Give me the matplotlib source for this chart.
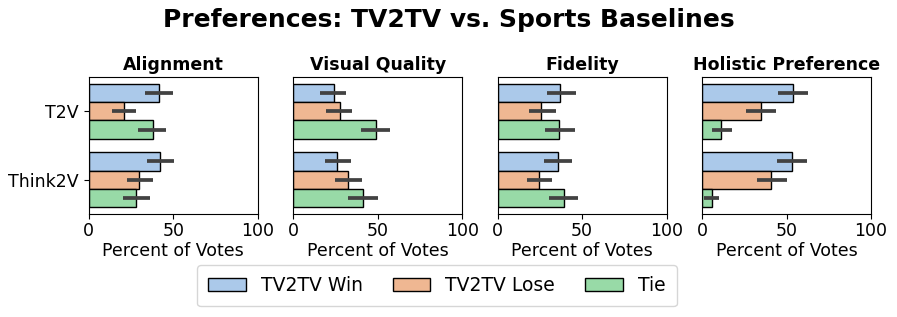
import numpy as np
import matplotlib
matplotlib.use("Agg")
import matplotlib.pyplot as plt
import seaborn as sns

# Data (percent of votes, with CI bounds)
panels = ["Alignment", "Visual Quality", "Fidelity", "Holistic Preference"]
baselines = ["T2V", "Think2V"]
outcomes = ["TV2TV Win", "TV2TV Lose", "Tie"]

# values[panel][baseline] = [win, lose, tie]
values = {
    "Alignment":           [[41.4, 20.8, 38.0], [42.2, 29.9, 27.9]],
    "Visual Quality":      [[24.2, 27.4, 48.8], [26.0, 32.5, 41.4]],
    "Fidelity":            [[37.2, 25.9, 36.6], [36.0, 24.4, 39.4]],
    "Holistic Preference": [[53.9, 34.7, 11.3], [53.3, 41.1, 5.6]],
}
ci_low = {
    "Alignment":           [[33.1, 13.9, 29.1], [34.7, 22.6, 20.0]],
    "Visual Quality":      [[16.1, 19.2, 40.1], [18.7, 24.8, 32.7]],
    "Fidelity":            [[29.2, 18.5, 28.0], [27.2, 17.1, 30.4]],
    "Holistic Preference": [[45.2, 25.8, 5.8], [44.4, 32.5, 1.4]],
}
ci_high = {
    "Alignment":           [[49.9, 28.1, 45.9], [50.5, 38.0, 36.0]],
    "Visual Quality":      [[31.3, 34.7, 57.3], [34.1, 40.7, 50.2]],
    "Fidelity":            [[46.1, 34.8, 45.5], [44.1, 32.0, 47.5]],
    "Holistic Preference": [[62.9, 43.5, 17.5], [62.1, 50.2, 9.9]],
}

colors = [sns.desaturate(c, 0.75) for c in sns.color_palette("pastel")[:3]]

fig, axes = plt.subplots(1, 4, figsize=(8.97, 3.17), dpi=100)
fig.subplots_adjust(left=0.099, right=0.971, top=0.757, bottom=0.325, wspace=0.21)

bar_h = 0.8 / 3
y = np.arange(len(baselines))
for ax, panel in zip(axes, panels):
    vals = np.array(values[panel])
    lo = np.array(ci_low[panel])
    hi = np.array(ci_high[panel])
    for k, name in enumerate(outcomes):
        pos = y - 0.4 + bar_h * (k + 0.5)
        ax.barh(pos, vals[:, k], height=bar_h, color=colors[k],
                edgecolor="black", linewidth=1, label=name)
        ax.errorbar(vals[:, k], pos,
                    xerr=[vals[:, k] - lo[:, k], hi[:, k] - vals[:, k]],
                    fmt="none", ecolor=(0.26, 0.26, 0.26), elinewidth=2.7,
                    capsize=0)
    ax.set_xlim(0, 100)
    ax.set_ylim(1.5, -0.5)
    ax.set_xticks([0, 50, 100])
    ax.tick_params(axis="x", labelsize=12.5, pad=2)
    ax.set_xlabel("Percent of Votes", fontsize=12.5, labelpad=2)
    ax.set_title(panel, fontsize=12.5, fontweight="bold", pad=5)
    if panel == panels[0]:
        ax.set_yticks(y)
        ax.set_yticklabels(baselines, fontsize=12.5)
    else:
        ax.set_yticks([])

fig.suptitle("Preferences: TV2TV vs. Sports Baselines", fontsize=18,
             fontweight="bold", y=0.975)

handles, labels = axes[0].get_legend_handles_labels()
fig.legend(handles, labels, loc="lower center", ncol=3, fontsize=13.5,
           bbox_to_anchor=(0.487, 0.004), columnspacing=1.6, borderpad=0.6)

fig.savefig("out.png", dpi=100)
